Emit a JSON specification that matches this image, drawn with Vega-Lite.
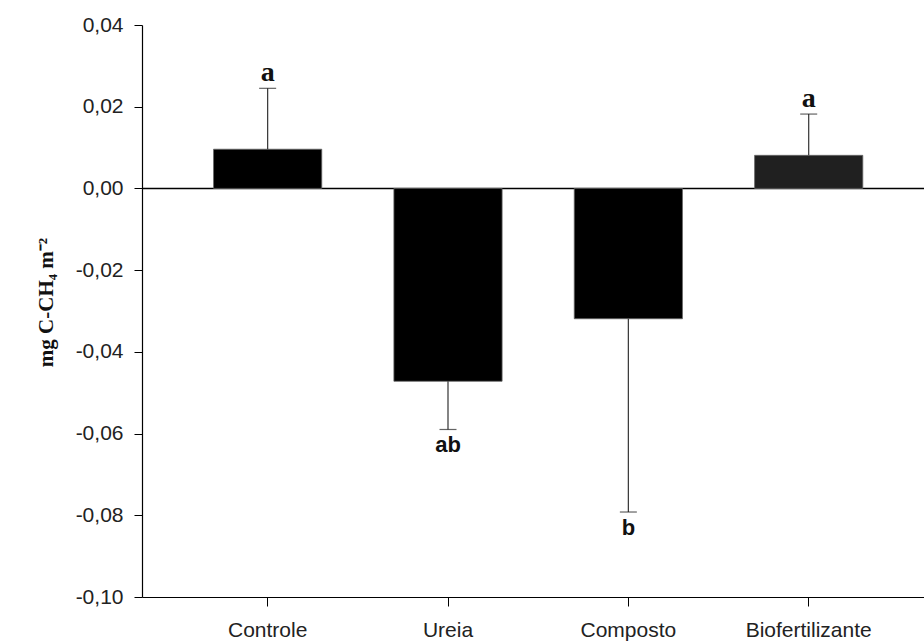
{
  "$schema": "https://vega.github.io/schema/vega-lite/v6.json",
  "width": 782,
  "height": 572,
  "autosize": {"type": "none"},
  "padding": {"left": 142, "top": 25, "right": 0, "bottom": 47},
  "background": "white",
  "config": {"view": {"stroke": null}, "font": "Liberation Sans"},
  "data": {
    "values": [
      {"trat": "Controle", "media": 0.0096, "limite": 0.0245, "letra": "a"},
      {"trat": "Ureia", "media": -0.0472, "limite": -0.059, "letra": "ab"},
      {"trat": "Composto", "media": -0.0319, "limite": -0.0792, "letra": "b"},
      {"trat": "Biofertilizante", "media": 0.0081, "limite": 0.0182, "letra": "a"}
    ]
  },
  "encoding": {
    "x": {
      "field": "trat", "type": "nominal", "sort": null,
      "scale": {"paddingInner": 0.4, "paddingOuter": 0.368, "align": 0.539},
      "axis": {
        "title": null, "labelAngle": 0, "labelFont": "Liberation Sans", "labelFontSize": 21,
        "labelColor": "#222", "labelPadding": 13, "tickSize": 9, "tickColor": "#000",
        "domainColor": "#000", "domainWidth": 1.2, "tickWidth": 1
      }
    }
  },
  "layer": [
    {
      "mark": {"type": "bar", "stroke": "#666", "strokeWidth": 0.8},
      "encoding": {
        "y": {
          "field": "media", "type": "quantitative", "title": "mg C-CH₄ m⁻²",
          "scale": {"domain": [-0.1, 0.04], "nice": false, "zero": false},
          "axis": {
            "values": [-0.1, -0.08, -0.06, -0.04, -0.02, 0, 0.02, 0.04],
            "labelExpr": "replace(replace(format(datum.value, '.2f'), '.', ','), '\u2212', '-')",
            "labelFont": "Liberation Sans", "labelFontSize": 21, "labelColor": "#222",
            "labelPadding": 11, "tickSize": 8, "tickColor": "#000", "domainColor": "#000",
            "domainWidth": 1.2, "grid": true,
            "gridColor": "#000", "gridWidth": 1.5,
            "gridOpacity": {"condition": {"test": "datum.value === 0", "value": 1}, "value": 0},
            "titleFont": "Liberation Serif", "titleFontWeight": "bold", "titleFontSize": 21,
            "titleColor": "#111", "titleX": -90, "titleY": 277, "titleAngle": -90,
            "titleBaseline": "alphabetic", "titleAlign": "center"
          }
        },
        "color": {
          "condition": {"test": "datum.trat === 'Biofertilizante'", "value": "#202020"},
          "value": "#000000"
        }
      }
    },
    {
      "mark": {"type": "rule", "color": "#333", "strokeWidth": 1.2},
      "encoding": {
        "y": {"field": "media", "type": "quantitative", "title": "mg C-CH₄ m⁻²"},
        "y2": {"field": "limite"}
      }
    },
    {
      "mark": {"type": "tick", "size": 17, "thickness": 1.2, "color": "#222"},
      "encoding": {
        "y": {"field": "limite", "type": "quantitative", "title": "mg C-CH₄ m⁻²"}
      }
    },
    {
      "transform": [{"filter": "datum.media > 0"}],
      "mark": {"type": "text", "font": "Liberation Serif", "fontWeight": "bold", "fontSize": 28, "baseline": "alphabetic", "dy": -7, "color": "#111"},
      "encoding": {
        "y": {"field": "limite", "type": "quantitative", "title": "mg C-CH₄ m⁻²"},
        "text": {"field": "letra"}
      }
    },
    {
      "transform": [{"filter": "datum.media < 0"}],
      "mark": {"type": "text", "font": "Liberation Sans", "fontWeight": "bold", "fontSize": 22, "baseline": "top", "dy": 6, "color": "#111"},
      "encoding": {
        "y": {"field": "limite", "type": "quantitative", "title": "mg C-CH₄ m⁻²"},
        "text": {"field": "letra"}
      }
    }
  ]
}
